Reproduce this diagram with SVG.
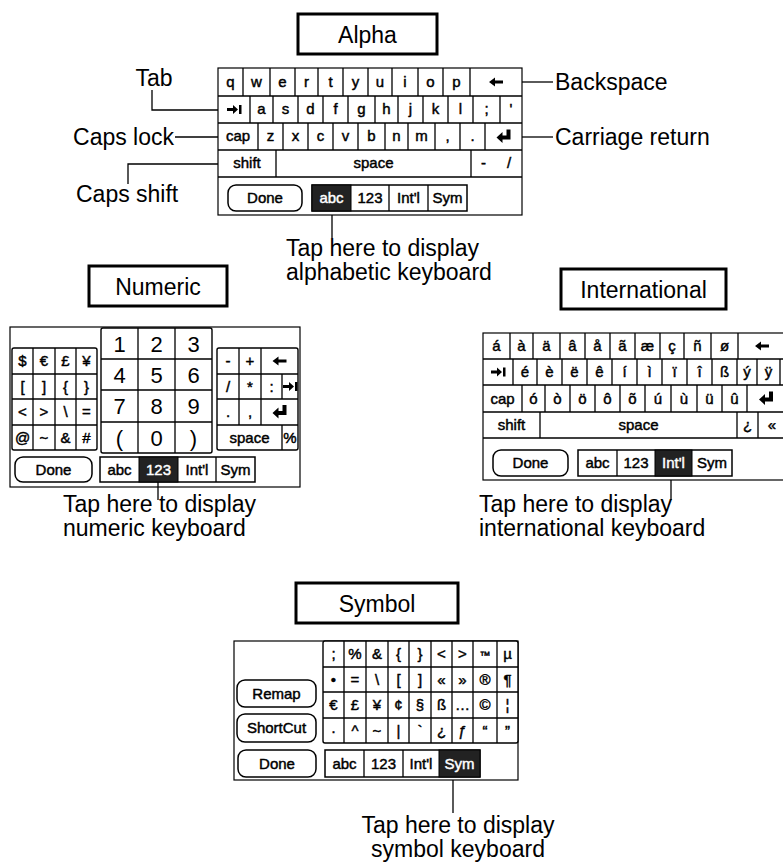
<svg xmlns="http://www.w3.org/2000/svg" xmlns:xlink="http://www.w3.org/1999/xlink" width="783" height="863" viewBox="0 0 783 863">
<style>
.bg{fill:#fff}
.frame{fill:#fff;stroke:#000;stroke-width:1.2}
.blk{fill:#fff;stroke:#000;stroke-width:1.4}
.grid{fill:none;stroke:#000;stroke-width:1.3}
.box{fill:#fff;stroke:#000;stroke-width:3}
.btn{fill:#fff;stroke:#000;stroke-width:1.5}
.sel{fill:#222;stroke:#000;stroke-width:1}
.ln{fill:none;stroke:#000;stroke-width:1.3}
.kt{font-family:"Liberation Sans",Arial,sans-serif;font-size:15px;text-anchor:middle;fill:#000;stroke:#000;stroke-width:0.45}
.dg{font-family:"Liberation Sans",Arial,sans-serif;font-size:22px;text-anchor:middle;fill:#000}
.w{fill:#fff;stroke:#fff}
.lbl{font-family:"Liberation Sans",Arial,sans-serif;font-size:23px;fill:#000}
.bl{font-family:"Liberation Sans",Arial,sans-serif;font-size:23px;text-anchor:middle;fill:#000}
.ico{fill:#000}
</style>
<defs>
<path id="i-bs" class="ico" d="M-7,0 L-1,-4.5 V-1.5 H7 V1.5 H-1 V4.5 Z"/>
<path id="i-tab" class="ico" d="M-7,-1.5 H-1 V-4.5 L4,0 L-1,4.5 V1.5 H-7 Z M5,-4.5 H7.5 V4.5 H5 Z"/>
<path id="i-ret" class="ico" d="M3,-7 H7 V3 H-1 V6.5 L-7,1 L-1,-4.5 V-1 H3 Z"/>
</defs>
<rect class="bg" x="0" y="0" width="783" height="863"/>

<!-- Title boxes -->
<g id="title-alpha"><rect class="box" x="298" y="14" width="139" height="40"/><text class="bl" x="367.5" y="43">Alpha</text></g>
<g id="title-numeric"><rect class="box" x="89" y="266" width="138" height="40"/><text class="bl" x="158" y="295">Numeric</text></g>
<g id="title-international"><rect class="box" x="561" y="269" width="165" height="40"/><text class="bl" x="643.5" y="298">International</text></g>
<g id="title-symbol"><rect class="box" x="296" y="583" width="162" height="40"/><text class="bl" x="377" y="612">Symbol</text></g>

<!-- Alpha keyboard -->
<g id="kb-alpha">
<rect class="frame" x="218" y="68" width="304" height="147"/>
<path class="grid" d="M218,96H522M218,123H522M218,150H522M218,177H522
M243,68v28M270,68v28M295,68v28M318,68v28M343,68v28M368,68v28M392,68v28M418,68v28M443,68v28M470,68v28
M250,96v27M273,96v27M298,96v27M323,96v27M348,96v27M375,96v27M398,96v27M423,96v27M448,96v27M473,96v27M500,96v27
M258,123v27M283,123v27M308,123v27M333,123v27M358,123v27M385,123v27M408,123v27M435,123v27M460,123v27M485,123v27
M276,150v27M471,150v27"/>
<g class="kt">
<text x="230.5" y="87">q</text><text x="256.5" y="87">w</text><text x="282.5" y="87">e</text><text x="306.5" y="87">r</text><text x="330.5" y="87">t</text><text x="355.5" y="87">y</text><text x="380" y="87">u</text><text x="405" y="87">i</text><text x="430.5" y="87">o</text><text x="456.5" y="87">p</text>
<text x="261.5" y="114">a</text><text x="285.5" y="114">s</text><text x="310.5" y="114">d</text><text x="335.5" y="114">f</text><text x="361.5" y="114">g</text><text x="386.5" y="114">h</text><text x="410.5" y="114">j</text><text x="435.5" y="114">k</text><text x="460.5" y="114">l</text><text x="486.5" y="114">;</text><text x="511" y="114">'</text>
<text x="238" y="141">cap</text><text x="270.5" y="141">z</text><text x="295.5" y="141">x</text><text x="320.5" y="141">c</text><text x="345.5" y="141">v</text><text x="371.5" y="141">b</text><text x="396.5" y="141">n</text><text x="421.5" y="141">m</text><text x="447.5" y="141">,</text><text x="472.5" y="141">.</text>
<text x="247" y="168">shift</text><text x="373.5" y="168">space</text><text x="483.5" y="168">-</text><text x="509" y="168">/</text>
</g>
<use xlink:href="#i-bs" x="496" y="82"/>
<use xlink:href="#i-tab" x="234" y="109.5"/>
<use xlink:href="#i-ret" x="503.5" y="136.5"/>
<rect class="btn" x="228" y="185" width="74" height="26" rx="8"/>
<text class="kt" x="265" y="203">Done</text>
<rect class="btn" x="312" y="185" width="155" height="26"/>
<rect class="sel" x="312" y="185" width="39" height="26"/>
<path class="grid" d="M389,185v26M428,185v26"/>
<text class="kt w" x="331.5" y="203">abc</text><text class="kt" x="370" y="203">123</text><text class="kt" x="408.5" y="203">Int'l</text><text class="kt" x="447.5" y="203">Sym</text>
</g>

<!-- Numeric keyboard -->
<g id="kb-numeric">
<rect class="frame" x="10" y="327" width="290" height="160"/>
<rect class="blk" x="12" y="348" width="85" height="102" rx="2"/>
<path class="grid" d="M12,374H97M12,399H97M12,425H97M33,348V450M55,348V450M76,348V450"/>
<g class="kt">
<text x="22.5" y="366">$</text><text x="44" y="366">€</text><text x="65.5" y="366">£</text><text x="86.5" y="366">¥</text>
<text x="22.5" y="391.5">[</text><text x="44" y="391.5">]</text><text x="65.5" y="391.5">{</text><text x="86.5" y="391.5">}</text>
<text x="22.5" y="417">&lt;</text><text x="44" y="417">&gt;</text><text x="65.5" y="417">\</text><text x="86.5" y="417">=</text>
<text x="22.5" y="442.5">@</text><text x="44" y="442.5">~</text><text x="65.5" y="442.5">&amp;</text><text x="86.5" y="442.5">#</text>
</g>
<rect class="blk" x="101" y="328" width="111" height="125" rx="2"/>
<path class="grid" d="M101,359H212M101,390H212M101,422H212M138,328V453M175,328V453"/>
<g class="dg">
<text x="119.5" y="351.5">1</text><text x="156.5" y="351.5">2</text><text x="193.5" y="351.5">3</text>
<text x="119.5" y="382.5">4</text><text x="156.5" y="382.5">5</text><text x="193.5" y="382.5">6</text>
<text x="119.5" y="414">7</text><text x="156.5" y="414">8</text><text x="193.5" y="414">9</text>
<text x="119.5" y="445.5">(</text><text x="156.5" y="445.5">0</text><text x="193.5" y="445.5">)</text>
</g>
<rect class="blk" x="217" y="348" width="81" height="102" rx="2"/>
<path class="grid" d="M217,374H298M217,399H298M217,425H298M239,348v51M261,348v51M282,374v25M239,399v26M261,399v26M282,425v25"/>
<g class="kt">
<text x="228" y="366">-</text><text x="250" y="366">+</text>
<text x="228" y="391.5">/</text><text x="250" y="391.5">*</text><text x="271.5" y="391.5">:</text>
<text x="228" y="417">.</text><text x="250" y="417">,</text>
<text x="249.5" y="442.5">space</text><text x="290" y="442.5">%</text>
</g>
<use xlink:href="#i-bs" x="279.5" y="361"/>
<use xlink:href="#i-tab" x="290" y="386.5"/>
<use xlink:href="#i-ret" x="279.5" y="412"/>
<rect class="btn" x="15" y="457" width="77" height="25" rx="8"/>
<text class="kt" x="53.5" y="474.5">Done</text>
<rect class="btn" x="100" y="457" width="155" height="25"/>
<rect class="sel" x="139" y="457" width="39" height="25"/>
<path class="grid" d="M216,457v25"/>
<text class="kt" x="119.5" y="474.5">abc</text><text class="kt w" x="158.5" y="474.5">123</text><text class="kt" x="197" y="474.5">Int'l</text><text class="kt" x="235.5" y="474.5">Sym</text>
</g>

<!-- International keyboard -->
<g id="kb-international">
<rect class="frame" x="483" y="333" width="310" height="147"/>
<path class="grid" d="M483,359H790M483,385H790M483,412H790M483,438H790
M510,333v26M533,333v26M560,333v26M585,333v26M610,333v26M635,333v26M660,333v26M684,333v26M711,333v26M738,333v26
M513,359v26M537,359v26M562,359v26M587,359v26M612,359v26M637,359v26M662,359v26M687,359v26M712,359v26M737,359v26M757,359v26M780,359v26
M522,385v27M545,385v27M570,385v27M595,385v27M620,385v27M645,385v27M671,385v27M697,385v27M722,385v27M747,385v27
M540,412v26M737,412v26M758,412v26"/>
<g class="kt">
<text x="496.5" y="351">á</text><text x="521.5" y="351">à</text><text x="546.5" y="351">ä</text><text x="572.5" y="351">â</text><text x="597.5" y="351">å</text><text x="622.5" y="351">ã</text><text x="647.5" y="351">æ</text><text x="672" y="351">ç</text><text x="697.5" y="351">ñ</text><text x="724.5" y="351">ø</text>
<text x="525" y="377">é</text><text x="549.5" y="377">è</text><text x="574.5" y="377">ë</text><text x="599.5" y="377">ê</text><text x="624.5" y="377">í</text><text x="649.5" y="377">ì</text><text x="674.5" y="377">ï</text><text x="699.5" y="377">î</text><text x="724.5" y="377">ß</text><text x="747" y="377">ý</text><text x="768.5" y="377">ÿ</text>
<text x="502.5" y="403.5">cap</text><text x="533.5" y="403.5">ó</text><text x="557.5" y="403.5">ò</text><text x="582.5" y="403.5">ö</text><text x="607.5" y="403.5">ô</text><text x="632.5" y="403.5">õ</text><text x="658" y="403.5">ú</text><text x="684" y="403.5">ù</text><text x="709.5" y="403.5">ü</text><text x="734.5" y="403.5">û</text>
<text x="511.5" y="430">shift</text><text x="638.5" y="430">space</text><text x="747.5" y="430">¿</text><text x="772" y="430">«</text>
</g>
<use xlink:href="#i-bs" x="762" y="346"/>
<use xlink:href="#i-tab" x="498" y="372"/>
<use xlink:href="#i-ret" x="766" y="398.5"/>
<rect class="btn" x="493" y="450" width="75" height="26" rx="8"/>
<text class="kt" x="530.5" y="468">Done</text>
<rect class="btn" x="578" y="450" width="154" height="26"/>
<rect class="sel" x="655" y="450" width="37" height="26"/>
<path class="grid" d="M617,450v26"/>
<text class="kt" x="597.5" y="468">abc</text><text class="kt" x="636" y="468">123</text><text class="kt w" x="673.5" y="468">Int'l</text><text class="kt" x="712" y="468">Sym</text>
</g>

<!-- Symbol keyboard -->
<g id="kb-symbol">
<rect class="frame" x="234" y="641" width="284" height="139"/>
<rect class="blk" x="323" y="641" width="195" height="102" rx="2"/>
<path class="grid" d="M323,667H518M323,692H518M323,718H518M344,641V743M366,641V743M388,641V743M409,641V743M431,641V743M452,641V743M473,641V743M497,641V743"/>
<g class="kt">
<text x="333.5" y="659">;</text><text x="355" y="659">%</text><text x="377" y="659">&amp;</text><text x="398.5" y="659">{</text><text x="420" y="659">}</text><text x="441.5" y="659">&lt;</text><text x="462.5" y="659">&gt;</text><text x="485" y="659" font-size="11">™</text><text x="507.5" y="659">µ</text>
<text x="333.5" y="684.5">•</text><text x="355" y="684.5">=</text><text x="377" y="684.5">\</text><text x="398.5" y="684.5">[</text><text x="420" y="684.5">]</text><text x="441.5" y="684.5">«</text><text x="462.5" y="684.5">»</text><text x="485" y="684.5">®</text><text x="507.5" y="684.5">¶</text>
<text x="333.5" y="710">€</text><text x="355" y="710">£</text><text x="377" y="710">¥</text><text x="398.5" y="710">¢</text><text x="420" y="710">§</text><text x="441.5" y="710">ß</text><text x="462.5" y="710">…</text><text x="485" y="710">©</text><text x="507.5" y="710">¦</text>
<text x="333.5" y="735.5">·</text><text x="355" y="735.5">^</text><text x="377" y="735.5">~</text><text x="398.5" y="735.5">|</text><text x="420" y="735.5">`</text><text x="441.5" y="735.5">¿</text><text x="462.5" y="735.5">ƒ</text><text x="485" y="735.5">“</text><text x="507.5" y="735.5">”</text>
</g>
<rect class="btn" x="237" y="680" width="79" height="27" rx="8"/>
<text class="kt" x="276.5" y="698.5">Remap</text>
<rect class="btn" x="237" y="714" width="79" height="28" rx="8"/>
<text class="kt" x="276.5" y="733">ShortCut</text>
<rect class="btn" x="238" y="750" width="78" height="27" rx="8"/>
<text class="kt" x="277" y="768.5">Done</text>
<rect class="btn" x="325" y="750" width="155" height="27"/>
<rect class="sel" x="439" y="750" width="41" height="27"/>
<path class="grid" d="M364,750v27M403,750v27"/>
<text class="kt" x="344.5" y="768.5">abc</text><text class="kt" x="383.5" y="768.5">123</text><text class="kt" x="421" y="768.5">Int'l</text><text class="kt w" x="459.5" y="768.5">Sym</text>
</g>

<!-- Connectors -->
<g id="connectors">
<path class="ln" d="M152,90V110H218"/>
<path class="ln" d="M175,137H218"/>
<path class="ln" d="M128,184V164H218"/>
<path class="ln" d="M522,82H553"/>
<path class="ln" d="M522,137H553"/>
<path class="ln" d="M332,215V238"/>
<path class="ln" d="M158,482V500"/>
<path class="ln" d="M671,480V500"/>
<path class="ln" d="M453,780V813"/>
</g>

<!-- Labels -->
<g id="label-tab"><text class="lbl" x="154" y="86" text-anchor="middle">Tab</text></g>
<g id="label-capslock"><text class="lbl" x="174" y="145" text-anchor="end">Caps lock</text></g>
<g id="label-capsshift"><text class="lbl" x="76" y="202">Caps shift</text></g>
<g id="label-backspace"><text class="lbl" x="555" y="90">Backspace</text></g>
<g id="label-return"><text class="lbl" x="555" y="145">Carriage return</text></g>
<g id="label-alpha-tap"><text class="lbl" x="286" y="256">Tap here to display</text><text class="lbl" x="286" y="280">alphabetic keyboard</text></g>
<g id="label-numeric-tap"><text class="lbl" x="63" y="512">Tap here to display</text><text class="lbl" x="63" y="536">numeric keyboard</text></g>
<g id="label-intl-tap"><text class="lbl" x="479" y="512">Tap here to display</text><text class="lbl" x="479" y="536">international keyboard</text></g>
<g id="label-symbol-tap"><text class="lbl" x="458" y="833" text-anchor="middle">Tap here to display</text><text class="lbl" x="458" y="857" text-anchor="middle">symbol keyboard</text></g>
</svg>
